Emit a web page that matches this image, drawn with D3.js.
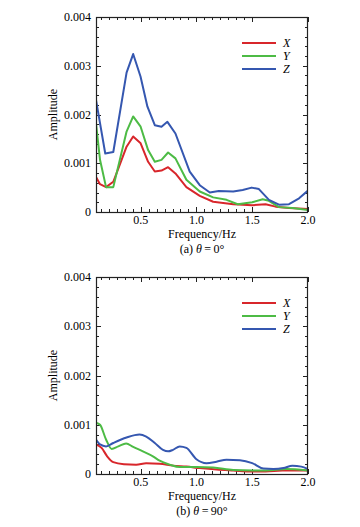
<!DOCTYPE html>
<html>
  <head>
    <script src="https://d3js.org/d3.v7.min.js"></script>
    <style>
      body { margin: 0; background: #fff; }
      text { font-family: "Liberation Serif", "DejaVu Serif", serif; }
    </style>
  </head>
  <body>
    <script>

    // series names and colours
    var seriesNames = ["X", "Y", "Z"];
    var seriesColors = ["#d8262b", "#4dbb45", "#3557b0"];

    // axis ticks
    var xTicks = [0.5, 1.0, 1.5, 2.0];
    var yTicks = [0, 0.001, 0.002, 0.003, 0.004];
    var yTickLabels = ["0", "0.001", "0.002", "0.003", "0.004"];

    // (a) theta = 0 deg : [frequency Hz, amplitude]
    var aX = [[0.1,0.00072],[0.136,0.00057],[0.19,0.00051],[0.255,0.00062],[0.374,0.00134],[0.433,0.00155],
              [0.5,0.00141],[0.567,0.00103],[0.627,0.00083],[0.687,0.00085],[0.746,0.00092],[0.812,0.00079],
              [0.91,0.00051],[1.03,0.00033],[1.15,0.00021],[1.33,0.00016],[1.5,0.00014],[1.62,0.00016],
              [1.71,0.00011],[1.83,0.00008],[2.0,0.00006]];
    var aY = [[0.1,0.00182],[0.136,0.00107],[0.19,0.00051],[0.255,0.00051],[0.374,0.00165],[0.433,0.00196],
              [0.5,0.00175],[0.567,0.00127],[0.627,0.00103],[0.687,0.00107],[0.746,0.00122],[0.812,0.0011],
              [0.91,0.00066],[1.03,0.00042],[1.15,0.0003],[1.27,0.00025],[1.37,0.00016],[1.5,0.0002],
              [1.594,0.00026],[1.65,0.00023],[1.74,0.0001],[1.86,0.00008],[2.0,0.00004]];
    var aZ = [[0.1,0.0023],[0.183,0.0012],[0.255,0.00123],[0.374,0.00286],[0.433,0.00324],[0.499,0.00278],
              [0.561,0.00216],[0.627,0.00178],[0.687,0.00175],[0.74,0.00185],[0.812,0.00161],[0.94,0.00083],
              [1.03,0.00055],[1.12,0.0004],[1.2,0.00043],[1.33,0.00042],[1.415,0.00045],[1.495,0.0005],
              [1.56,0.00047],[1.65,0.00025],[1.74,0.00015],[1.83,0.00016],[1.92,0.00028],[2.0,0.00044]];

    // (b) theta = 90 deg
    var bX = [[0.1,0.0006],[0.15,0.00053],[0.2,0.00036],[0.255,0.00024],[0.35,0.0002],[0.46,0.00019],
              [0.55,0.00022],[0.67,0.00021],[0.79,0.00017],[0.91,0.00015],[1.03,0.00012],[1.18,0.00009],
              [1.33,0.00007],[1.5,0.00005],[1.62,0.00005],[1.77,0.00007],[2.0,0.00007]];
    var bY = [[0.1,0.00104],[0.136,0.001],[0.19,0.0007],[0.24,0.00051],[0.3,0.00056],[0.37,0.00062],
              [0.433,0.00055],[0.52,0.00046],[0.61,0.00036],[0.67,0.00027],[0.76,0.00019],[0.85,0.00014],
              [1.0,0.00014],[1.15,0.00013],[1.33,0.00008],[1.5,0.00007],[1.62,0.00007],[1.8,0.0001],[2.0,0.00007]];
    var bZ = [[0.1,0.0007],[0.136,0.0006],[0.19,0.00056],[0.255,0.00063],[0.374,0.00074],[0.49,0.0008],
              [0.55,0.00076],[0.627,0.00063],[0.7,0.00049],[0.746,0.00046],[0.79,0.00049],[0.85,0.00056],
              [0.91,0.00053],[1.0,0.0003],[1.09,0.00022],[1.18,0.00025],[1.27,0.00029],[1.39,0.00028],
              [1.5,0.00022],[1.6,0.00011],[1.69,0.0001],[1.78,0.00012],[1.86,0.00017],[1.94,0.00015],[2.0,0.0001]];

    var w = 360, h = 527;
    var svg = d3.select("body").append("svg")
      .attr("width", w)
      .attr("height", h);

    // draw one panel
    function panel(top, bottom, data, caption, curve) {
      var x = d3.scaleLinear().domain([0.1, 2.0]).range([96, 308]);
      var y = d3.scaleLinear().domain([0, 0.004]).range([bottom, top]);
      var g = svg.append("g");

      // minor ticks
      var xMinor = [];
      for (var k = -7; k <= 14; k++) {
        var v = 0.5 + k * 0.5 / 7;
        if (v > 0.1 + 1e-6 && v < 2.0 - 1e-6 && Math.abs(k % 7) !== 0) xMinor.push(v);
      }
      var yMinor = d3.range(0.0002, 0.004, 0.0002).filter(function(v) {
        return Math.abs(v / 0.001 - Math.round(v / 0.001)) > 1e-6;
      });

      var tk = g.append("g").attr("stroke", "#222").attr("stroke-width", 1);
      xMinor.forEach(function(v) {
        var px = Math.round(x(v)) + 0.5;
        tk.append("line").attr("x1", px).attr("x2", px).attr("y1", bottom).attr("y2", bottom - 3);
        tk.append("line").attr("x1", px).attr("x2", px).attr("y1", top).attr("y2", top + 3);
      });
      xTicks.forEach(function(v) {
        var px = Math.round(x(v)) + 0.5;
        tk.append("line").attr("x1", px).attr("x2", px).attr("y1", bottom).attr("y2", bottom - 5);
        tk.append("line").attr("x1", px).attr("x2", px).attr("y1", top).attr("y2", top + 5);
      });
      yMinor.forEach(function(v) {
        var py = Math.round(y(v)) + 0.5;
        tk.append("line").attr("x1", 96).attr("x2", 99).attr("y1", py).attr("y2", py);
        tk.append("line").attr("x1", 308).attr("x2", 305).attr("y1", py).attr("y2", py);
      });
      yTicks.forEach(function(v) {
        var py = Math.round(y(v)) + 0.5;
        tk.append("line").attr("x1", 96).attr("x2", 101).attr("y1", py).attr("y2", py);
        tk.append("line").attr("x1", 308).attr("x2", 303).attr("y1", py).attr("y2", py);
      });

      // curves
      var line = d3.line()
        .x(function(d) { return x(d[0]); })
        .y(function(d) { return y(d[1]); })
        .curve(curve);
      var clipId = "clip" + top;
      svg.append("clipPath").attr("id", clipId).append("rect")
        .attr("x", 96).attr("y", top).attr("width", 212).attr("height", bottom - top);
      g.append("g").attr("clip-path", "url(#" + clipId + ")")
        .selectAll("path")
        .data(data)
        .enter()
        .append("path")
        .attr("d", function(d) { return line(d); })
        .attr("fill", "none")
        .attr("stroke", function(d, i) { return seriesColors[i]; })
        .attr("stroke-width", 2)
        .attr("stroke-linejoin", "round");

      // frame
      g.append("rect")
        .attr("x", 96.5).attr("y", top + 0.5)
        .attr("width", 211).attr("height", bottom - top)
        .attr("fill", "none").attr("stroke", "#222").attr("stroke-width", 1.2);

      // tick labels
      g.selectAll(".xl").data(xTicks).enter().append("text")
        .attr("x", function(d) { return x(d); })
        .attr("y", bottom + 12)
        .attr("text-anchor", "middle")
        .attr("font-size", "12px")
        .text(function(d) { return d.toFixed(1); });
      g.selectAll(".yl").data(yTicks).enter().append("text")
        .attr("x", 91)
        .attr("y", function(d) { return y(d) + 4; })
        .attr("text-anchor", "end")
        .attr("font-size", "12px")
        .text(function(d, i) { return yTickLabels[i]; });

      // axis titles
      g.append("text")
        .attr("transform", "translate(57," + ((top + bottom) / 2) + ") rotate(-90)")
        .attr("text-anchor", "middle")
        .attr("font-size", "12px")
        .text("Amplitude");
      g.append("text")
        .attr("x", 202).attr("y", bottom + 26)
        .attr("text-anchor", "middle")
        .attr("font-size", "12px")
        .text("Frequency/Hz");

      // caption
      var cap = g.append("text")
        .attr("x", 202).attr("y", bottom + 41)
        .attr("text-anchor", "middle")
        .attr("font-size", "12px");
      cap.append("tspan").text("(" + caption[0] + ") ");
      cap.append("tspan").attr("font-style", "italic").text("\u03B8");
      cap.append("tspan").text("\u2009=\u2009" + caption[1] + "\u00B0");

      // legend
      var lg = g.append("g");
      seriesNames.forEach(function(name, i) {
        var ly = top + 26 + i * 13;
        lg.append("line")
          .attr("x1", 242).attr("x2", 276).attr("y1", ly).attr("y2", ly)
          .attr("stroke", seriesColors[i]).attr("stroke-width", 2);
        lg.append("text")
          .attr("x", 283).attr("y", ly + 4)
          .attr("font-size", "12px")
          .attr("font-style", "italic")
          .text(name);
      });
    }

    panel(17, 212, [aX, aY, aZ], ["a", "0"], d3.curveLinear);
    panel(277, 474, [bX, bY, bZ], ["b", "90"], d3.curveMonotoneX);

    </script>
  </body>
</html>
